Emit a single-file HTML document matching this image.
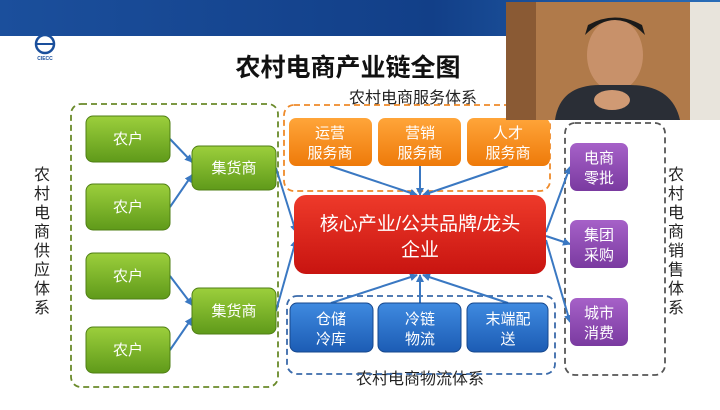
<!DOCTYPE html><html><head><meta charset="utf-8"><style>
body{margin:0;width:720px;height:405px;overflow:hidden;background:#fff;font-family:"Liberation Sans","Noto Sans CJK SC",sans-serif}
</style></head><body>
<svg width="720" height="405" viewBox="0 0 720 405" xmlns="http://www.w3.org/2000/svg" font-family="Liberation Sans, Noto Sans CJK SC, sans-serif">
<defs>
<linearGradient id="hd" x1="0" x2="1"><stop offset="0" stop-color="#1b4f9c"/><stop offset="0.6" stop-color="#123f88"/><stop offset="1" stop-color="#2a6db8"/></linearGradient>
<linearGradient id="g" x1="0" y1="0" x2="0" y2="1"><stop offset="0" stop-color="#9ccf3c"/><stop offset="1" stop-color="#5f9a1a"/></linearGradient>
<linearGradient id="o" x1="0" y1="0" x2="0" y2="1"><stop offset="0" stop-color="#ffa53a"/><stop offset="1" stop-color="#ee7a0a"/></linearGradient>
<linearGradient id="r" x1="0" y1="0" x2="0" y2="1"><stop offset="0" stop-color="#ee3a2a"/><stop offset="1" stop-color="#c81410"/></linearGradient>
<linearGradient id="b" x1="0" y1="0" x2="0" y2="1"><stop offset="0" stop-color="#3f8ae0"/><stop offset="1" stop-color="#1c5cb4"/></linearGradient>
<linearGradient id="p" x1="0" y1="0" x2="0" y2="1"><stop offset="0" stop-color="#a661c8"/><stop offset="1" stop-color="#7a3aa0"/></linearGradient>
<marker id="a" markerWidth="8" markerHeight="8" refX="7" refY="4" orient="auto" markerUnits="userSpaceOnUse"><path d="M0,0L8,4L0,8z" fill="#3a78c2"/></marker>
</defs>
<rect x="0" y="0" width="720" height="36" fill="url(#hd)"/>
<circle cx="45" cy="44" r="9" fill="none" stroke="#1a4f9c" stroke-width="2.5"/>
<line x1="36" y1="44" x2="54" y2="44" stroke="#1a4f9c" stroke-width="2"/>
<text x="45" y="60" font-size="5" fill="#1a4f9c" text-anchor="middle" font-weight="bold">CIECC</text>
<text x="348" y="76" font-size="25" font-weight="bold" text-anchor="middle" fill="#111">农村电商产业链全图</text>
<text x="413" y="103" font-size="16" text-anchor="middle" fill="#222">农村电商服务体系</text>
<text x="420" y="384" font-size="16" text-anchor="middle" fill="#222">农村电商物流体系</text>
<g stroke-dasharray="6,4" stroke-width="1.8" fill="none">
<rect x="71" y="104" width="207" height="283" rx="10" stroke="#6a8a2a"/>
<rect x="284" y="105" width="266" height="86" rx="10" stroke="#ee8a2a"/>
<rect x="287" y="296" width="268" height="78" rx="10" stroke="#3a6aaa"/>
<rect x="565" y="123" width="100" height="252" rx="10" stroke="#555"/>
</g>
<g font-size="16" fill="#222" text-anchor="middle">
<text x="42" y="180">农</text><text x="42" y="199">村</text><text x="42" y="218">电</text><text x="42" y="237">商</text><text x="42" y="256">供</text><text x="42" y="275">应</text><text x="42" y="294">体</text><text x="42" y="313">系</text>
<text x="676" y="180">农</text><text x="676" y="199">村</text><text x="676" y="218">电</text><text x="676" y="237">商</text><text x="676" y="256">销</text><text x="676" y="275">售</text><text x="676" y="294">体</text><text x="676" y="313">系</text>
</g>
<g stroke="#3a78c2" stroke-width="2" marker-end="url(#a)">
<line x1="170" y1="139" x2="192" y2="162"/><line x1="170" y1="207" x2="192" y2="175"/>
<line x1="170" y1="276" x2="192" y2="305"/><line x1="170" y1="350" x2="192" y2="318"/>
<line x1="276" y1="168" x2="296" y2="232"/><line x1="276" y1="311" x2="296" y2="240"/>
<line x1="330" y1="166" x2="417" y2="195"/><line x1="420" y1="166" x2="420" y2="195"/><line x1="508" y1="166" x2="423" y2="195"/>
<line x1="331" y1="303" x2="417" y2="275"/><line x1="420" y1="303" x2="420" y2="275"/><line x1="508" y1="303" x2="423" y2="275"/>
<line x1="546" y1="232" x2="570" y2="167"/><line x1="546" y1="236" x2="570" y2="244"/><line x1="546" y1="240" x2="570" y2="322"/>
</g>
<g font-size="15" fill="#fff" text-anchor="middle">
<rect x="86" y="116" width="84" height="46" rx="7" fill="url(#g)" stroke="#4f7f14"/><text x="128" y="144">农户</text>
<rect x="86" y="184" width="84" height="46" rx="7" fill="url(#g)" stroke="#4f7f14"/><text x="128" y="212">农户</text>
<rect x="86" y="253" width="84" height="46" rx="7" fill="url(#g)" stroke="#4f7f14"/><text x="128" y="281">农户</text>
<rect x="86" y="327" width="84" height="46" rx="7" fill="url(#g)" stroke="#4f7f14"/><text x="128" y="355">农户</text>
<rect x="192" y="146" width="84" height="44" rx="7" fill="url(#g)" stroke="#4f7f14"/><text x="234" y="173">集货商</text>
<rect x="192" y="288" width="84" height="46" rx="7" fill="url(#g)" stroke="#4f7f14"/><text x="234" y="316">集货商</text>
<rect x="289" y="118" width="83" height="48" rx="7" fill="url(#o)"/><text x="330" y="138">运营</text><text x="330" y="158">服务商</text>
<rect x="378" y="118" width="83" height="48" rx="7" fill="url(#o)"/><text x="420" y="138">营销</text><text x="420" y="158">服务商</text>
<rect x="467" y="118" width="83" height="48" rx="7" fill="url(#o)"/><text x="508" y="138">人才</text><text x="508" y="158">服务商</text>
<rect x="294" y="195" width="252" height="79" rx="12" fill="url(#r)"/>
<text x="420" y="230" font-size="19">核心产业/公共品牌/龙头</text><text x="420" y="256" font-size="19">企业</text>
<rect x="290" y="303" width="83" height="49" rx="7" fill="url(#b)" stroke="#16478c"/><text x="331" y="324">仓储</text><text x="331" y="344">冷库</text>
<rect x="378" y="303" width="83" height="49" rx="7" fill="url(#b)" stroke="#16478c"/><text x="420" y="324">冷链</text><text x="420" y="344">物流</text>
<rect x="467" y="303" width="81" height="49" rx="7" fill="url(#b)" stroke="#16478c"/><text x="508" y="324">末端配</text><text x="508" y="344">送</text>
<rect x="570" y="143" width="58" height="48" rx="7" fill="url(#p)"/><text x="599" y="163">电商</text><text x="599" y="183">零批</text>
<rect x="570" y="220" width="58" height="48" rx="7" fill="url(#p)"/><text x="599" y="240">集团</text><text x="599" y="260">采购</text>
<rect x="570" y="298" width="58" height="48" rx="7" fill="url(#p)"/><text x="599" y="318">城市</text><text x="599" y="338">消费</text>
</g>
<rect x="506" y="2" width="214" height="118" fill="#b07a4a"/>
<rect x="506" y="2" width="30" height="118" fill="#8a5a34"/>
<rect x="690" y="2" width="30" height="118" fill="#e8e4dc"/>
<ellipse cx="615" cy="55" rx="28" ry="36" fill="#c8916a"/>
<path d="M585,35 Q615,5 645,35 L642,25 Q615,10 588,25z" fill="#1a1a1a"/>
<path d="M555,120 Q560,85 600,85 L630,85 Q672,85 680,120z" fill="#2a2e36"/>
<ellipse cx="612" cy="100" rx="18" ry="10" fill="#d09a74"/>
</svg>
</body></html>
